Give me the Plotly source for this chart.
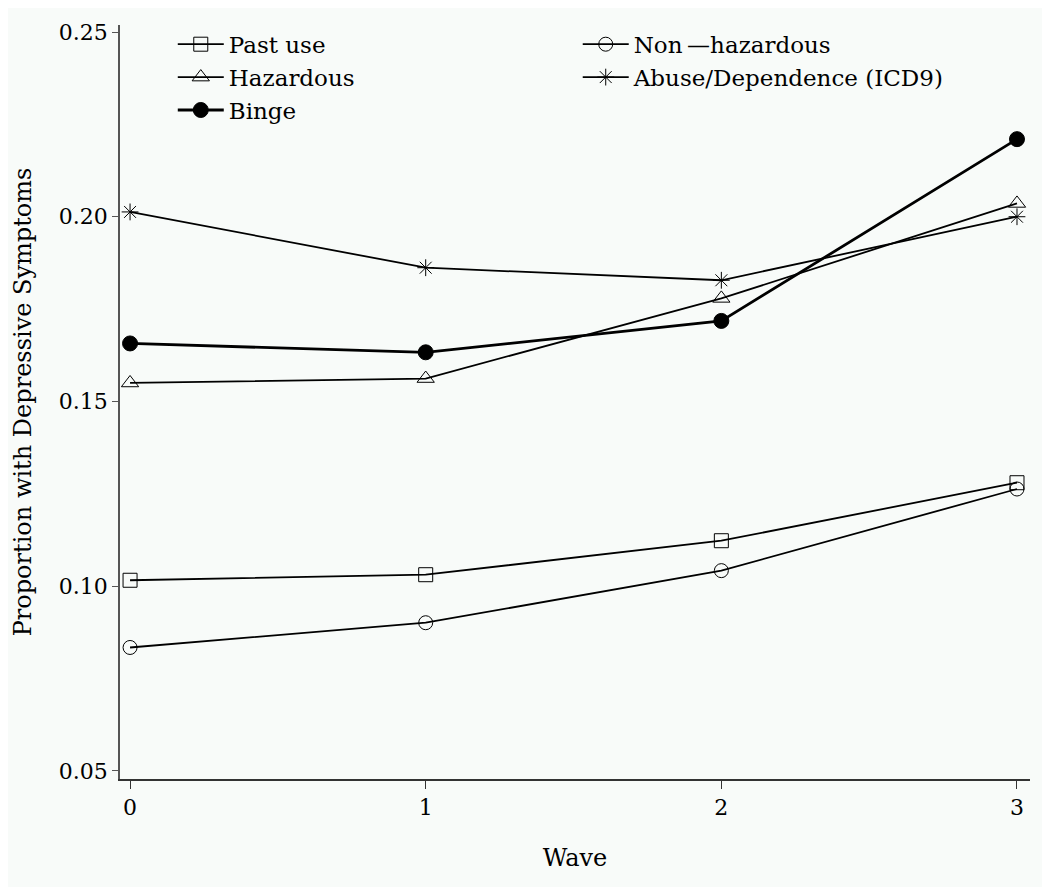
import plotly.graph_objects as go

waves = [0, 1, 2, 3]
past_use = [0.1016, 0.1031, 0.1123, 0.1280]
non_hazardous = [0.0834, 0.0901, 0.1042, 0.1263]
hazardous = [0.1550, 0.1562, 0.1779, 0.2036]
abuse_dep = [0.2013, 0.1862, 0.1828, 0.2000]
binge = [0.1657, 0.1633, 0.1718, 0.2210]

y_ticks = [0.05, 0.10, 0.15, 0.20, 0.25]
x_ticks = [0, 1, 2, 3]

FONT = "DejaVu Serif"
BG = "#f8fbf9"

fig = go.Figure()

def add(name, y, symbol, legend, width=1.8, size=14, color="black"):
    fig.add_trace(go.Scatter(
        x=waves, y=y, name=name, mode="lines+markers",
        line=dict(color="black", width=width),
        marker=dict(symbol=symbol, size=size, color=color,
                    line=dict(color="black", width=1)),
        legend=legend,
    ))

add("Past use", past_use, "square-open", "legend")
add("Hazardous", hazardous, "triangle-up-open", "legend", size=15)
add("Binge", binge, "circle", "legend", width=2.8, size=15)
add("Non\u2009\u2014hazardous", non_hazardous, "circle-open", "legend2")
add("Abuse/Dependence (ICD9)", abuse_dep, "asterisk-open", "legend2", size=14)

fig.update_layout(
    width=1050, height=887,
    paper_bgcolor=BG, plot_bgcolor=BG,
    margin=dict(l=112, r=28, t=12, b=116),
    font=dict(family=FONT, color="black", size=20),
    legend=dict(x=0.058, y=1.003, xanchor="left", yanchor="top",
                bgcolor="rgba(0,0,0,0)", font=dict(size=23, family=FONT),
                tracegroupgap=0, itemwidth=46),
    legend2=dict(x=0.503, y=1.003, xanchor="left", yanchor="top",
                 bgcolor="rgba(0,0,0,0)", font=dict(size=23, family=FONT),
                 tracegroupgap=0, itemwidth=46),
    xaxis=dict(range=[-0.034, 3.044], tickvals=x_ticks, ticktext=[str(v) for v in x_ticks],
               showgrid=False, zeroline=False, showline=True, linecolor="#333", linewidth=1.5,
               ticks="outside", ticklen=8, tickcolor="#333",
               tickfont=dict(size=22, family=FONT),
               title=dict(text="Wave", font=dict(size=24, family=FONT), standoff=30)),
    yaxis=dict(range=[0.0478, 0.2519], tickvals=y_ticks, ticktext=["%.2f" % v for v in y_ticks],
               showgrid=False, zeroline=False, showline=True, linecolor="#555", linewidth=1.5,
               ticks="outside", ticklen=6, tickcolor="#555",
               tickfont=dict(size=22, family=FONT),
               title=dict(text="Proportion with Depressive Symptoms", font=dict(size=24, family=FONT), standoff=20)),
)

fig.write_html("out.html")
